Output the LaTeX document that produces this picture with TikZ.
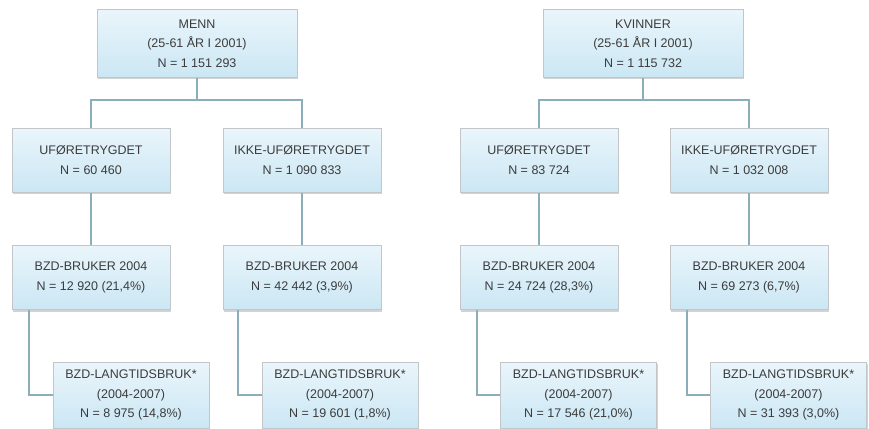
\documentclass[tikz,border=0pt]{standalone}
\usepackage{fontspec}
\setmainfont{Liberation Sans}
\usetikzlibrary{shadows}
\definecolor{txt}{HTML}{3C3C3C}
\definecolor{boxtop}{HTML}{EAF5FB}
\definecolor{boxbot}{HTML}{CBE7F4}
\definecolor{boxline}{HTML}{C2C6C8}
\definecolor{conn}{HTML}{8AAFB9}
\tikzset{
  tbox/.style={rectangle, draw=boxline, line width=1pt, top color=boxtop, bottom color=boxbot,
    drop shadow={opacity=0.35, shadow xshift=1.2pt, shadow yshift=-2pt},
    align=center, inner sep=0pt, text=txt,
    font=\fontsize{12.5pt}{19.5pt}\selectfont},
  topbox/.style={tbox, minimum width=200pt, minimum height=67pt},
  midbox/.style={tbox, minimum width=158pt, minimum height=64pt},
  lowbox/.style={tbox, minimum width=156pt, minimum height=66pt},
  link/.style={draw=conn, line width=2.3pt}
}
\begin{document}
\begin{tikzpicture}[x=1pt,y=-1pt]
\useasboundingbox (0,0) rectangle (869,428);
\begin{scope}
\clip (0,0) rectangle (869,428);
\coordinate (j1) at (197,100);
\coordinate (j2) at (643,100);

\node[topbox] (menn) at (197,43.5) {MENN\\(25-61 ÅR I 2001)\\N = 1 151 293};
\node[topbox] (kvin) at (643,43.5) {KVINNER\\(25-61 ÅR I 2001)\\N = 1 115 732};

\node[midbox] (u1) at (91,160) {UFØRETRYGDET\\N = 60 460};
\node[midbox] (i1) at (302,160) {IKKE-UFØRETRYGDET\\N = 1 090 833};
\node[midbox] (u2) at (539,160) {UFØRETRYGDET\\N = 83 724};
\node[midbox] (i2) at (749,160) {IKKE-UFØRETRYGDET\\N = 1 032 008};

\node[midbox] (b1) at (91,277.5) {BZD-BRUKER 2004\\N = 12 920 (21,4\%)};
\node[midbox] (b2) at (302,277.5) {BZD-BRUKER 2004\\N = 42 442 (3,9\%)};
\node[midbox] (b3) at (539,277.5) {BZD-BRUKER 2004\\N = 24 724 (28,3\%)};
\node[midbox] (b4) at (749,277.5) {BZD-BRUKER 2004\\N = 69 273 (6,7\%)};

\node[lowbox] (l1) at (131,395) {BZD-LANGTIDSBRUK*\\(2004-2007)\\N = 8 975 (14,8\%)};
\node[lowbox] (l2) at (340,395) {BZD-LANGTIDSBRUK*\\(2004-2007)\\N = 19 601 (1,8\%)};
\node[lowbox] (l3) at (578.5,395) {BZD-LANGTIDSBRUK*\\(2004-2007)\\N = 17 546 (21,0\%)};
\node[lowbox] (l4) at (788.5,395) {BZD-LANGTIDSBRUK*\\(2004-2007)\\N = 31 393 (3,0\%)};

\draw[link] (menn.south) -- (j1);
\draw[link] (j1) -| (u1.north);
\draw[link] (j1) -| (i1.north);
\draw[link] (kvin.south) -- (j2);
\draw[link] (j2) -| (u2.north);
\draw[link] (j2) -| (i2.north);
\draw[link] (u1.south) -- (b1.north);
\draw[link] (i1.south) -- (b2.north);
\draw[link] (u2.south) -- (b3.north);
\draw[link] (i2.south) -- (b4.north);
\draw[link] ([xshift=-62pt]b1.south) |- (l1.west);
\draw[link] ([xshift=-64pt]b2.south) |- (l2.west);
\draw[link] ([xshift=-62pt]b3.south) |- (l3.west);
\draw[link] ([xshift=-62pt]b4.south) |- (l4.west);
\end{scope}
\end{tikzpicture}
\end{document}
